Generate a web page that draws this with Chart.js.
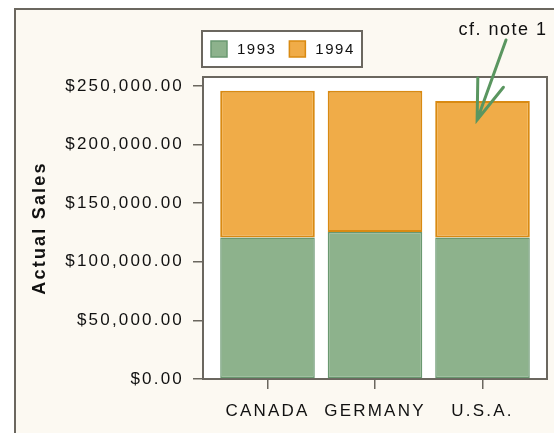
<!DOCTYPE html>
<html>
<head>
<meta charset="utf-8">
<title>Actual Sales</title>
<script src="https://cdn.jsdelivr.net/npm/chart.js@4.4.1/dist/chart.umd.min.js"></script>
<style>
  html, body { margin: 0; padding: 0; background: #fff; }
  canvas { display: block; }
</style>
</head>
<body>
<canvas id="salesChart" width="554" height="433"></canvas>
<script>
// sales per country, stacked by year
const countries = ['CANADA', 'GERMANY', 'U.S.A.'];
const years = ['1993', '1994'];
const sales1993 = [120800, 125500, 120800];
const sales1994 = [125200, 120500, 116400];
const yTickValues = [0, 50000, 100000, 150000, 200000, 250000];
const noteText = 'cf. note 1';

const palette = {
    bg: '#fcf9f2',
    frame: '#6b675f',
    ink: '#111111',
    green: '#8db28c',
    greenEdge: '#6a9870',
    orange: '#f0ac48',
    orangeEdge: '#d98a12',
    arrow: '#5a9660'
};

const FONT = 'Arial, "Liberation Sans", sans-serif';
const SPACING = '2.2px';

// the old renderer spaces its glyphs out; canvas resets on resize so set it every pass
const spacingPlugin = {
    id: 'spacing',
    beforeUpdate(chart) { chart.ctx.letterSpacing = SPACING; },
    beforeDraw(chart) { chart.ctx.letterSpacing = SPACING; }
};

// cream page, outer frame, white plot box
const framePlugin = {
    id: 'frame',
    beforeDraw(chart) {
        const { ctx, chartArea: a } = chart;
        ctx.save();
        ctx.fillStyle = '#fff';
        ctx.fillRect(0, 0, chart.width, chart.height);
        ctx.fillStyle = palette.bg;
        ctx.fillRect(15, 9, chart.width, chart.height);
        ctx.strokeStyle = palette.frame;
        ctx.lineWidth = 2;
        ctx.strokeRect(15, 9, chart.width + 20, chart.height + 20);
        ctx.fillStyle = '#fff';
        ctx.fillRect(a.left, a.top, a.right - a.left, a.bottom - a.top);
        ctx.strokeRect(a.left, a.top, a.right - a.left, a.bottom - a.top);
        ctx.restore();
    }
};

// boxed legend above the plot
const legendBoxPlugin = {
    id: 'legendBox',
    afterDraw(chart) {
        const ctx = chart.ctx;
        const x0 = 202, y0 = 31, w = 160, h = 36, sq = 16;
        ctx.save();
        ctx.letterSpacing = '1.5px';
        ctx.fillStyle = '#fff';
        ctx.fillRect(x0, y0, w, h);
        ctx.strokeStyle = palette.frame;
        ctx.lineWidth = 2;
        ctx.strokeRect(x0, y0, w, h);
        ctx.font = '15px ' + FONT;
        ctx.textBaseline = 'middle';
        let x = x0 + 9;
        chart.data.datasets.forEach(function (ds) {
            ctx.fillStyle = ds.backgroundColor;
            ctx.fillRect(x, y0 + (h - sq) / 2, sq, sq);
            ctx.strokeStyle = ds.borderColor;
            ctx.lineWidth = 1.5;
            ctx.strokeRect(x, y0 + (h - sq) / 2, sq, sq);
            x += sq + 10;
            ctx.fillStyle = palette.ink;
            ctx.fillText(ds.label, x, y0 + h / 2 + 1);
            x += ctx.measureText(ds.label).width + 13;
        });
        ctx.restore();
    }
};

// "cf. note 1" with an open arrow pointing into the U.S.A. bar
const notePlugin = {
    id: 'note',
    afterDraw(chart) {
        const { ctx, scales } = chart;
        const tipX = scales.x.getPixelForValue(1.95);
        const tipY = scales.y.getPixelForValue(221000);
        const tailX = 506, tailY = 40;
        ctx.save();
        ctx.letterSpacing = '1.5px';
        ctx.font = '18px ' + FONT;
        ctx.fillStyle = palette.ink;
        ctx.textAlign = 'center';
        ctx.textBaseline = 'middle';
        ctx.fillText(noteText, 503, 30);

        const ang = Math.atan2(tailY - tipY, tailX - tipX);
        const len = 42, spread = 0.33;
        ctx.strokeStyle = palette.arrow;
        ctx.lineWidth = 3;
        ctx.lineCap = 'round';
        ctx.beginPath();
        ctx.moveTo(tailX, tailY);
        ctx.lineTo(tipX, tipY);
        ctx.moveTo(tipX + len * Math.cos(ang - spread), tipY + len * Math.sin(ang - spread));
        ctx.lineTo(tipX, tipY);
        ctx.lineTo(tipX + len * Math.cos(ang + spread), tipY + len * Math.sin(ang + spread));
        ctx.stroke();
        ctx.restore();
    }
};

function money(v) {
    return '$' + v.toLocaleString('en-US', { minimumFractionDigits: 2, maximumFractionDigits: 2 });
}

function toPoints(values) {
    return values.map(function (v, i) { return { x: i, y: v }; });
}

new Chart(document.getElementById('salesChart'), {
    type: 'bar',
    data: {
        datasets: [{
            label: years[0],
            data: toPoints(sales1993),
            backgroundColor: palette.green,
            borderColor: palette.greenEdge,
            borderWidth: 1.5,
            borderSkipped: false
        }, {
            label: years[1],
            data: toPoints(sales1994),
            backgroundColor: palette.orange,
            borderColor: palette.orangeEdge,
            borderWidth: 2,
            borderSkipped: false
        }]
    },
    options: {
        responsive: false,
        animation: false,
        devicePixelRatio: 1,
        categoryPercentage: 1,
        barPercentage: 0.88,
        layout: { padding: { top: 77, right: 7, bottom: 0, left: 20 } },
        plugins: {
            legend: { display: false },
            tooltip: { enabled: false }
        },
        scales: {
            x: {
                type: 'linear',
                stacked: true,
                offset: false,
                min: -0.6,
                max: 2.6,
                afterBuildTicks: function (s) {
                    s.ticks = countries.map(function (c, i) { return { value: i }; });
                },
                afterFit: function (s) { s.height = 54; },
                border: { display: false },
                grid: {
                    offset: false,
                    drawOnChartArea: false,
                    tickLength: 10,
                    color: palette.frame,
                    lineWidth: 1.5
                },
                ticks: {
                    padding: 12,
                    color: palette.ink,
                    font: { family: FONT, size: 17 },
                    maxRotation: 0,
                    autoSkip: false,
                    callback: function (v) { return countries[v]; }
                }
            },
            y: {
                stacked: true,
                min: 0,
                max: 257700,
                afterBuildTicks: function (s) {
                    s.ticks = yTickValues.map(function (v) { return { value: v }; });
                },
                afterFit: function (s) { s.width = 183; },
                border: { display: false },
                grid: {
                    drawOnChartArea: false,
                    tickLength: 10,
                    color: palette.frame,
                    lineWidth: 1.5
                },
                ticks: {
                    padding: 9,
                    color: palette.ink,
                    font: { family: FONT, size: 17 },
                    callback: function (v) { return money(v); }
                },
                title: {
                    display: true,
                    text: 'Actual Sales',
                    color: palette.ink,
                    font: { family: FONT, size: 18, weight: 'bold' },
                    padding: { top: 9, bottom: 0 }
                }
            }
        }
    },
    plugins: [spacingPlugin, framePlugin, legendBoxPlugin, notePlugin]
});
</script>
</body>
</html>
